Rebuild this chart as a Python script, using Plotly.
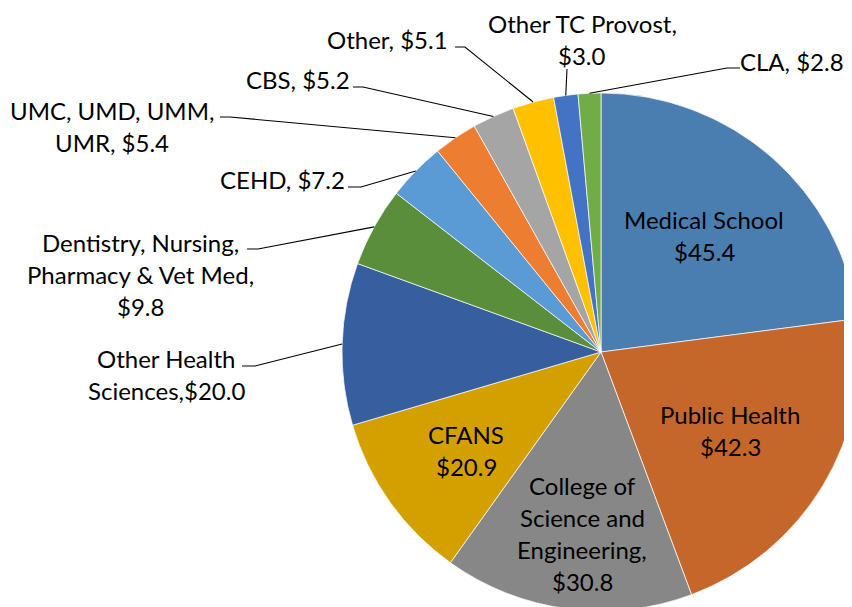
import math
import plotly.graph_objects as go

# ---------------- data ----------------
categories = [
    "Medical School", "Public Health", "College of Science and Engineering", "CFANS",
    "Other Health Sciences", "Dentistry, Nursing, Pharmacy & Vet Med", "CEHD",
    "UMC, UMD, UMM, UMR", "CBS", "Other", "Other TC Provost", "CLA",
]
values = [45.4, 42.3, 30.8, 20.9, 20.0, 9.8, 7.2, 5.4, 5.2, 5.1, 3.0, 2.8]
label_lines = [
    ["Medical School", "${v}"],
    ["Public Health", "${v}"],
    ["College of", "Science and", "Engineering,", "${v}"],
    ["CFANS", "${v}"],
    ["Other Health", "Sciences,${v}"],
    ["Dentistry, Nursing,", "Pharmacy & Vet Med,", "${v}"],
    ["CEHD, ${v}"],
    ["UMC, UMD, UMM,", "UMR, ${v}"],
    ["CBS, ${v}"],
    ["Other, ${v}"],
    ["Other TC Provost,", "${v}"],
    ["CLA, ${v}"],
]

# ---------------- styling / layout ----------------
colors = ["#4A7EB1", "#C5672A", "#878787", "#D3A000", "#375E9F", "#5B8E3A",
          "#5B9BD5", "#ED7D31", "#A5A5A5", "#FFC000", "#4472C4", "#70AD47"]
W, H = 852, 607
OFF = 8                               # page body margin: figure origin sits at (8, 8)
PIE_L, PIE_T, PIE_R, PIE_B = 334, 85, 852, 603   # pie domain in figure pixels
LINE_H = 32                           # label line spacing (px)
FONT = dict(family="Lato, 'Open Sans', sans-serif", size=24, color="#000000")

# label centre (x, y of first line) in page pixels
label_pos = [
    (704, 219), (730, 414), (582, 485), (466, 434), (166, 358), (140, 242),
    (282, 179), (112, 111), (298, 79), (387, 39), (582, 24), (792, 61),
]
# leader-line elbow points near the label, page pixels (None = label inside the slice)
leader_start = [
    None, None, None, None,
    [(242, 366), (255, 366)],
    [(247, 249), (258, 249)],
    [(348, 187), (361, 187)],
    [(220, 117), (230, 117)],
    [(353, 87), (363, 87)],
    [(455, 47), (465, 47)],
    [(567, 69)],
    [(740, 68), (727, 68)],
]

dom_x = [PIE_L / W, PIE_R / W]
dom_y = [1 - PIE_B / H, 1 - PIE_T / H]
pw, ph = W * (dom_x[1] - dom_x[0]), H * (dom_y[1] - dom_y[0])
r = min(pw, ph) / 2
cx = W * (dom_x[0] + dom_x[1]) / 2
cy = H * (1 - dom_y[0]) - ph / 2

fig = go.Figure(go.Pie(
    labels=categories, values=values, sort=False, direction="clockwise",
    rotation=0, textinfo="none", hoverinfo="label+value",
    marker=dict(colors=colors, line=dict(color="#FFFFFF", width=0.7)),
    domain=dict(x=dom_x, y=dom_y), showlegend=False,
))


def fig2paper(x, y):
    return x / W, 1 - y / H


def page2paper(x, y):
    return fig2paper(x - OFF, y - OFF)


total = sum(values)
cum = 0.0
annotations, shapes = [], []
for cat, v, lines, pos, lead in zip(categories, values, label_lines, label_pos, leader_start):
    mid = (cum + v / 2) / total * 2 * math.pi
    cum += v
    for i, ln in enumerate(lines):
        ax, ay = page2paper(pos[0], pos[1] + i * LINE_H)
        annotations.append(dict(
            text=ln.replace("{v}", f"{v:.1f}"), x=ax, y=ay, xref="paper", yref="paper",
            xanchor="center", yanchor="middle", showarrow=False, font=FONT,
        ))
    if lead:
        pts = [page2paper(x, y) for x, y in lead]
        pts.append(fig2paper(cx + r * math.sin(mid), cy - r * math.cos(mid)))
        path = "M " + " L ".join("{:.5f},{:.5f}".format(x, y) for x, y in pts)
        shapes.append(dict(type="path", path=path, xref="paper", yref="paper",
                           line=dict(color="#000000", width=1.1)))

fig.update_layout(
    width=W, height=H, margin=dict(l=0, r=0, t=0, b=0),
    paper_bgcolor="#FFFFFF", plot_bgcolor="#FFFFFF",
    annotations=annotations, shapes=shapes,
)
fig.write_html("out.html")
